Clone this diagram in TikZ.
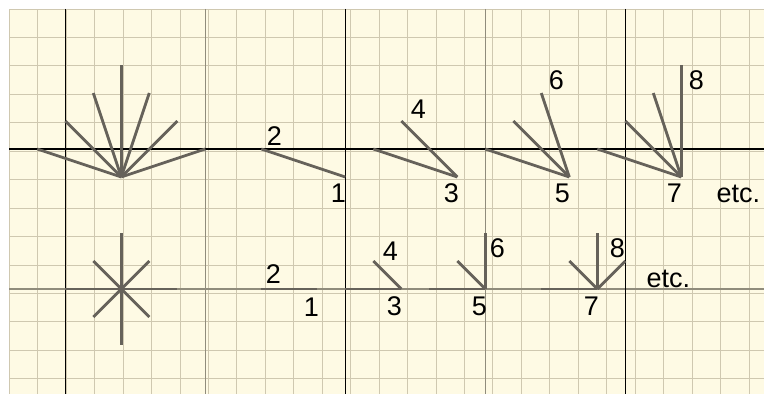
\documentclass[tikz,border=0pt]{standalone}
\usepackage{fontspec}
\setmainfont{Liberation Sans}
\usetikzlibrary{positioning}
\definecolor{paper}{HTML}{FEFAE4}
\definecolor{gridtan}{HTML}{CFC8B0}
\definecolor{raygray}{HTML}{66625A}
\definecolor{axisgray}{HTML}{908C7C}

\begin{document}
\begin{tikzpicture}[x=28pt,y=28pt]
\tikzset{ray/.style={draw=raygray,line width=2.8pt},
  num/.style={font=\fontsize{27}{30}\selectfont,anchor=base,inner sep=0pt,text=black},
  blackline/.style={draw=black,line width=1.4pt},
  grayline/.style={draw=axisgray,line width=1.2pt}}
\useasboundingbox (-0.332,0.321) rectangle (26.954,-13.75);
% paper and grid
\fill[paper] (0,0) rectangle (26.954,-13.75);
\draw[gridtan,line width=1pt] (0,-13.75) grid (26.954,0);
\foreach \x in {7,17} \draw[grayline] (\x,0) -- (\x,-13.75);
\draw[grayline] (0,-10) -- (26.954,-10);
\foreach \x in {2,12,22} \draw[blackline] (\x,0) -- (\x,-13.75);
\draw[blackline] (0,-5) -- (26.954,-5);
% centres of the groups
\coordinate (fan) at (4,-6);
\coordinate (c1) at (12,-6);
\coordinate (c3) at (16,-6);
\coordinate (c5) at (20,-6);
\coordinate (c7) at (24,-6);
\coordinate (star) at (4,-10);
\coordinate (d1) at (11,-10);
\coordinate (d3) at (14,-10);
\coordinate (d5) at (17,-10);
\coordinate (d7) at (21,-10);
% top row
\foreach \dx/\dy in {-3/1,-2/2,-1/3,0/4,1/3,2/2,3/1} \draw[ray] (fan) -- ++(\dx,\dy);
\draw[ray] (c1) -- ++(-3,1) coordinate (e2);
\draw[ray] (c3) -- ++(-3,1);
\draw[ray] (c3) -- ++(-2,2) coordinate (e4);
\foreach \dx/\dy in {-3/1,-2/2} \draw[ray] (c5) -- ++(\dx,\dy);
\draw[ray] (c5) -- ++(-1,3) coordinate (e6);
\foreach \dx/\dy in {-3/1,-2/2,-1/3} \draw[ray] (c7) -- ++(\dx,\dy);
\draw[ray] (c7) -- ++(0,4) coordinate (e8);
% bottom row
\foreach \dx/\dy in {2/0,1/1,0/2,-1/1,-2/0,-1/-1,0/-2,1/-1} \draw[ray] (star) -- ++(\dx,\dy);
\draw[ray] (d1) -- ++(-2,0) coordinate (f2);
\draw[ray] (d3) -- ++(-2,0);
\draw[ray] (d3) -- ++(-1,1) coordinate (f4);
\foreach \dx/\dy in {-2/0,-1/1} \draw[ray] (d5) -- ++(\dx,\dy);
\draw[ray] (d5) -- ++(0,2) coordinate (f6);
\foreach \dx/\dy in {-2/0,-1/1,1/1} \draw[ray] (d7) -- ++(\dx,\dy);
\draw[ray] (d7) -- ++(0,2) coordinate (f8);
% labels, top row
\node[num] (t1) at ([shift={(-7pt,-26pt)}]c1) {1};
\node[num] (t2) at ([shift={(13pt,3pt)}]e2) {2};
\node[num] (t3) at ([shift={(-6pt,-26pt)}]c3) {3};
\node[num] (t4) at ([shift={(17pt,2pt)}]e4) {4};
\node[num] (t5) at ([shift={(-7pt,-26pt)}]c5) {5};
\node[num] (t6) at ([shift={(15pt,3pt)}]e6) {6};
\node[num] (t7) at ([shift={(-7pt,-26pt)}]c7) {7};
\node[num] (t8) at ([shift={(15pt,-25pt)}]e8) {8};
\node[num] (tetc) at ([shift={(57pt,-26pt)}]c7) {etc.};
% labels, bottom row
\node[num] (b1) at ([shift={(-6pt,-27.5pt)}]d1) {1};
\node[num] (b2) at ([shift={(12pt,5.5pt)}]f2) {2};
\node[num] (b3) at ([shift={(-7pt,-26.5pt)}]d3) {3};
\node[num] (b4) at ([shift={(17pt,0pt)}]f4) {4};
\node[num] (b5) at ([shift={(-6pt,-26.5pt)}]d5) {5};
\node[num] (b6) at ([shift={(12pt,-25pt)}]f6) {6};
\node[num] (b7) at ([shift={(-6pt,-26.5pt)}]d7) {7};
\node[num] (b8) at ([shift={(20pt,-25pt)}]f8) {8};
\node[num] (betc) at ([shift={(71pt,1.5pt)}]d7) {etc.};
\end{tikzpicture}
\end{document}
